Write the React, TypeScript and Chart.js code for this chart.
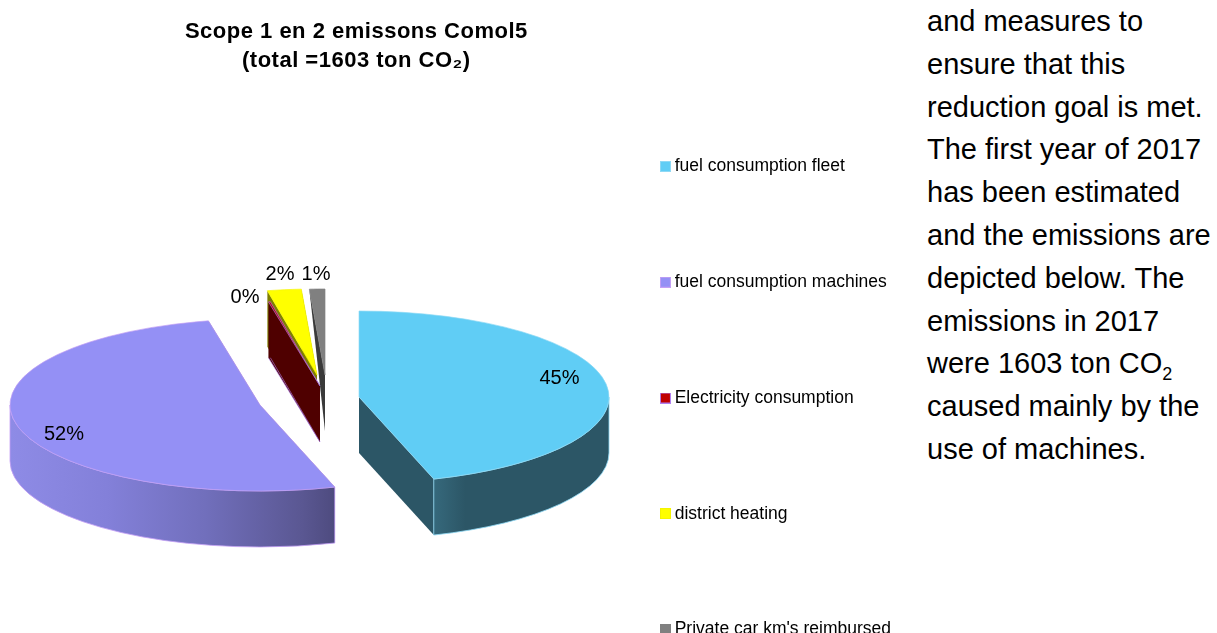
import React, { useEffect, useRef } from "react";
import { Chart, registerables } from "chart.js";

Chart.register(...registerables);

const categories = [
  "fuel consumption fleet",
  "fuel consumption machines",
  "Electricity consumption",
  "district heating",
  "Private car km's reimbursed",
];
const tons = [724, 826, 2, 35, 16];
const titleLines = ["Scope 1 en 2 emissons Comol5", "(total =1603 ton CO\u2082)"];
const bodyLines = [
  "and measures to",
  "ensure that this",
  "reduction goal is met.",
  "The first year of 2017",
  "has been estimated",
  "and the emissions are",
  "depicted below. The",
  "emissions in 2017",
];

const topColors = ["#60CDF5", "#9490F5", "#C00000", "#FFFF00", "#808080"];
const borderColors = ["#8FD9F5", "#C4A0F5", "#B080F0", "#F4F400", "#808080"];
const faceColors = ["#2C5666", "#4E4B7F", "#4F0000", "#7F7F00", "#3A3A3A"];
const apexes = [[359, 397], [260, 405], [320, 386], [317, 375], [325, 375]];
const labelSpots = [[559.5, 378], [64, 434], [245, 297], [280, 274], [316, 274]];
const drawOrder = [4, 3, 2, 1, 0];
const TILT = 0.344;
const DEPTH = 56;

function makeSwatch(fill: string, stroke: string) {
  const c = document.createElement("canvas");
  c.width = 11;
  c.height = 11;
  const g = c.getContext("2d")!;
  g.fillStyle = stroke;
  g.fillRect(0, 0, 11, 11);
  g.fillStyle = fill;
  g.fillRect(1, 1, 9, 9);
  return c;
}

const pie3d = {
  id: "pie3d",
  afterLayout(chart: any) {
    const t = chart.titleBlock;
    if (t && !t.__spaced) {
      t.__spaced = true;
      const draw = t.draw;
      t.draw = function () {
        chart.ctx.letterSpacing = "0.5px";
        draw.call(t);
        chart.ctx.letterSpacing = "0px";
      };
    }
  },
  beforeDatasetDraw(chart: any, args: any) {
    const ctx = chart.ctx;
    const arcs = args.meta.data;
    drawOrder.forEach((i) => {
      const arc = arcs[i];
      const { x, y, startAngle, endAngle, outerRadius: r } = arc;
      const [ax, ay] = apexes[i];
      const ry = r * TILT;
      const rim = (a: number): [number, number] => [ax + r * Math.cos(a), ay + ry * Math.sin(a)];
      // cut faces
      [startAngle, endAngle].forEach((a: number, n: number) => {
        const [px, py] = rim(a);
        // the thin grey slice's far cut face tapers to the rim in the reference
        const rimDepth = i === 4 && n === 0 ? 0 : DEPTH;
        ctx.beginPath();
        ctx.moveTo(ax, ay);
        ctx.lineTo(px, py);
        ctx.lineTo(px, py + rimDepth);
        ctx.lineTo(ax, ay + DEPTH);
        ctx.closePath();
        ctx.fillStyle = faceColors[i];
        ctx.fill();
        if (i === 2) {
          ctx.strokeStyle = borderColors[i];
          ctx.lineWidth = 0.6;
          ctx.beginPath();
          ctx.moveTo(px, py + rimDepth);
          ctx.lineTo(ax, ay + DEPTH);
          ctx.stroke();
        }
      });
      // outer wall
      const a0 = Math.max(startAngle, 0);
      const a1 = Math.min(endAngle, Math.PI);
      if (a1 > a0) {
        const [sx] = rim(a0);
        const [ex] = rim(a1);
        const grad = ctx.createLinearGradient(Math.min(sx, ex), 0, Math.max(sx, ex), 0);
        if (i === 0) {
          grad.addColorStop(0, "#36697C");
          grad.addColorStop(0.18, "#2C5666");
          grad.addColorStop(1, "#2C5666");
        } else {
          grad.addColorStop(0, "#8E8BE6");
          grad.addColorStop(0.3, "#8380D9");
          grad.addColorStop(0.6, "#716FBC");
          grad.addColorStop(0.9, "#5A5792");
          grad.addColorStop(1, "#4E4B7F");
        }
        ctx.beginPath();
        ctx.ellipse(ax, ay, r, ry, 0, a0, a1);
        ctx.ellipse(ax, ay + DEPTH, r, ry, 0, a1, a0, true);
        ctx.closePath();
        ctx.fillStyle = grad;
        ctx.fill();
        ctx.strokeStyle = borderColors[i];
        ctx.lineWidth = 0.8;
        ctx.stroke();
      }
      // top, drawn by the library's own arc element
      ctx.save();
      ctx.translate(ax, ay);
      ctx.scale(1, TILT);
      ctx.translate(-x, -y);
      arc.draw(ctx);
      ctx.restore();
    });
    return false;
  },
  afterDatasetsDraw(chart: any) {
    const ctx = chart.ctx;
    const total = tons.reduce((s, v) => s + v, 0);
    ctx.save();
    ctx.fillStyle = "#000";
    ctx.font = "20px 'Liberation Sans'";
    ctx.textAlign = "center";
    ctx.textBaseline = "middle";
    tons.forEach((v, i) => {
      ctx.fillText(`${Math.round((v / total) * 100)}%`, labelSpots[i][0], labelSpots[i][1]);
    });
    ctx.restore();
  },
};

export default function App() {
  const ref = useRef<HTMLCanvasElement>(null);
  useEffect(() => {
    const chart = new Chart(ref.current!, {
      type: "pie",
      plugins: [pie3d],
      data: {
        labels: categories,
        datasets: [
          {
            data: tons,
            backgroundColor: topColors,
            borderColor: borderColors,
            borderWidth: 1,
          },
        ],
      },
      options: {
        responsive: false,
        animation: false,
        events: [],
        radius: 250,
        rotation: 0,
        layout: { padding: { left: 146, top: 8 } },
        plugins: {
          tooltip: { enabled: false },
          title: {
            display: true,
            text: titleLines,
            fullSize: false,
            color: "#000",
            font: { family: "'Liberation Sans'", size: 22, weight: "bold", lineHeight: 1.3 },
          },
          legend: {
            position: "right",
            labels: {
              color: "#000",
              font: { family: "'Liberation Sans'", size: 17.5 },
              usePointStyle: true,
              boxWidth: 1,
              boxHeight: 1,
              pointStyleWidth: 1,
              padding: 98.25,
              generateLabels: () =>
                categories.map((text, i) => ({
                  text,
                  index: i,
                  hidden: false,
                  fillStyle: topColors[i],
                  strokeStyle: borderColors[i],
                  lineWidth: 0,
                  pointStyle: makeSwatch(topColors[i], borderColors[i]),
                })),
            },
          },
        },
      },
    } as any);
    return () => chart.destroy();
  }, []);
  return (
    <div style={{ position: "fixed", left: 0, top: 0, width: 1217, height: 633, overflow: "hidden", background: "#fff" }}>
      <canvas ref={ref} width={901} height={788} style={{ display: "block", position: "absolute", left: 0, top: 0 }} />
      <div
        style={{
          position: "absolute",
          left: 927,
          top: 0,
          width: 290,
          fontFamily: "'Liberation Sans'",
          fontSize: 29,
          lineHeight: "42.8px",
          color: "#000",
          whiteSpace: "nowrap",
        }}
      >
        {bodyLines.map((l) => (
          <div key={l}>{l}</div>
        ))}
        <div>
          were 1603 ton CO<sub style={{ fontSize: 18, lineHeight: 0 }}>2</sub>
        </div>
        <div>caused mainly by the</div>
        <div>use of machines.</div>
      </div>
    </div>
  );
}
